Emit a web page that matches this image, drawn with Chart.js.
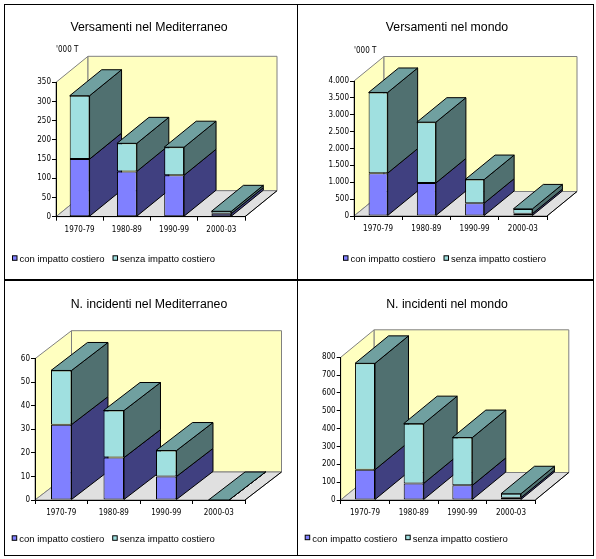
<!DOCTYPE html>
<html>
<head>
<meta charset="utf-8">
<script src="https://cdn.jsdelivr.net/npm/chart.js@4.4.1/dist/chart.umd.min.js"></script>
<style>
  html, body { margin: 0; padding: 0; background: #fff; }
  #wrap { position: relative; width: 596px; height: 559px; background: #fff; overflow: hidden; }
  #wrap canvas { position: absolute; }
  .line { position: absolute; background: #000; }
</style>
</head>
<body>
<div id="wrap">
  <canvas id="c1" width="298" height="280" style="left:0;top:0"></canvas>
  <canvas id="c2" width="298" height="280" style="left:298px;top:0"></canvas>
  <canvas id="c3" width="298" height="279" style="left:0;top:280px"></canvas>
  <canvas id="c4" width="298" height="279" style="left:298px;top:280px"></canvas>
  <div style="position:absolute;left:4px;top:4px;width:588px;height:550px;border:1px solid #000"></div>
  <div class="line" style="left:297px;top:4px;width:1px;height:551px"></div>
  <div class="line" style="left:4px;top:279px;width:589px;height:2px"></div>
</div>
<script>
// data
var categories = ['1970-79', '1980-89', '1990-99', '2000-03'];
var seriesNames = ['con impatto costiero', 'senza impatto costiero'];

var medTonsCon = [150, 118, 108, 8];
var medTonsSenza = [165, 73, 73, 6];
var medTonsTicks = [0, 50, 100, 150, 200, 250, 300, 350];

var worldTonsCon = [1270, 980, 380, 70];
var worldTonsSenza = [2390, 1800, 700, 140];
var worldTonsTicks = [0, 500, 1000, 1500, 2000, 2500, 3000, 3500, 4000];

var medIncCon = [32, 18, 10, 0];
var medIncSenza = [23, 20, 11, 0];
var medIncTicks = [0, 10, 20, 30, 40, 50, 60];

var worldIncCon = [170, 93, 82, 13];
var worldIncSenza = [596, 335, 268, 22];
var worldIncTicks = [0, 100, 200, 300, 400, 500, 600, 700, 800];

var FRONT = ['#8080FF', '#A0E0E0'];
var SIDE = ['#404080', '#507070'];
var TOP = '#70A0A0';
var WALL = '#FFFFC0';
var FLOOR = '#E0E0E0';
var NARROW = '"Liberation Sans Narrow", "Arial Narrow", "DejaVu Sans Condensed", sans-serif';
var SANS = '"Liberation Sans", Arial, sans-serif';

function poly(ctx, pts, fill, stroke) {
	ctx.beginPath();
	ctx.moveTo(pts[0][0], pts[0][1]);
	for (var i = 1; i < pts.length; i++) {
		ctx.lineTo(pts[i][0], pts[i][1]);
	}
	ctx.closePath();
	if (fill) {
		ctx.fillStyle = fill;
		ctx.fill();
	}
	if (stroke) {
		ctx.strokeStyle = stroke;
		ctx.lineWidth = 1;
		ctx.stroke();
	}
}

function fmtIt(v) {
	return String(v).replace(/\B(?=(\d{3})+(?!\d))/g, '.');
}

// walls, floor, bar sides and tops, plus the Excel-like texts
var excel3d = {
	id: 'excel3d',
	beforeDraw: function (chart, args, o) {
		var ctx = chart.ctx, a = chart.chartArea, dx = o.dx, dy = o.dy;
		ctx.save();
		poly(ctx, [[a.left, a.bottom], [a.left, a.top], [a.left + dx, a.top + dy], [a.left + dx, a.bottom + dy]], WALL, '#808080');
		poly(ctx, [[a.left + dx, a.top + dy], [a.right + dx, a.top + dy], [a.right + dx, a.bottom + dy], [a.left + dx, a.bottom + dy]], WALL, '#808080');
		poly(ctx, [[a.left, a.bottom], [a.right, a.bottom], [a.right + dx, a.bottom + dy], [a.left + dx, a.bottom + dy]], FLOOR, '#808080');
		ctx.beginPath();
		ctx.moveTo(a.right, a.bottom);
		ctx.lineTo(a.right + dx, a.bottom + dy);
		ctx.strokeStyle = '#000';
		ctx.stroke();
		ctx.restore();
	},
	beforeDatasetsDraw: function (chart, args, o) {
		var ctx = chart.ctx, dx = o.dx, dy = o.dy;
		var metas = chart.getSortedVisibleDatasetMetas();
		ctx.save();
		for (var i = 0; i < chart.data.labels.length; i++) {
			var topBar = null;
			metas.forEach(function (meta, k) {
				var p = meta.data[i].getProps(['x', 'y', 'base', 'width'], true);
				var l = p.x - p.width / 2, r = p.x + p.width / 2;
				var t = Math.min(p.y, p.base), b = Math.max(p.y, p.base);
				poly(ctx, [[r, t], [r + dx, t + dy], [r + dx, b + dy], [r, b]], SIDE[k], '#000');
				if (!topBar || t <= topBar.t) {
					topBar = {l: l, r: r, t: t};
				}
			});
			if (topBar) {
				poly(ctx, [[topBar.l, topBar.t], [topBar.r, topBar.t], [topBar.r + dx, topBar.t + dy], [topBar.l + dx, topBar.t + dy]], TOP, '#000');
			}
		}
		ctx.restore();
	},
	afterDraw: function (chart, args, o) {
		var ctx = chart.ctx;
		ctx.save();
		ctx.fillStyle = '#000';
		ctx.textBaseline = 'alphabetic';
		ctx.font = '12.3px ' + SANS;
		ctx.textAlign = 'center';
		ctx.fillText(o.title, chart.width / 2, o.titleY);
		if (o.unit) {
			ctx.font = '8px ' + NARROW;
			ctx.textAlign = 'left';
			ctx.fillText(o.unit, chart.chartArea.left, o.unitY);
		}
		ctx.font = '9.5px ' + SANS;
		ctx.textAlign = 'left';
		var x = o.legendX;
		chart.data.datasets.forEach(function (ds, k) {
			ctx.fillStyle = FRONT[k];
			ctx.fillRect(x + 0.5, o.legendY - 6.5, 4.5, 4.5);
			ctx.strokeStyle = '#000';
			ctx.lineWidth = 1;
			ctx.strokeRect(x + 0.5, o.legendY - 6.5, 4.5, 4.5);
			ctx.fillStyle = '#000';
			ctx.fillText(ds.label, x + 7.5, o.legendY);
			x += 7.5 + ctx.measureText(ds.label).width + 8;
		});
		ctx.restore();
	}
};

var panels = [
	{id: 'c1', title: 'Versamenti nel Mediterraneo', unit: "'000 T", con: medTonsCon, senza: medTonsSenza, ticks: medTonsTicks,
		L: 56, R: 245, T: 82.3, B: 216.7, dx: 32, dy: -26, barPct: 0.42, titleY: 30.7, unitY: 52.3, legendX: 12, legendY: 262.3},
	{id: 'c2', title: 'Versamenti nel mondo', unit: "'000 T", con: worldTonsCon, senza: worldTonsSenza, ticks: worldTonsTicks,
		L: 56, R: 249, T: 81, B: 216, dx: 30, dy: -24.5, barPct: 0.395, titleY: 30.7, unitY: 52.7, legendX: 45, legendY: 262.3},
	{id: 'c3', title: 'N. incidenti nel Mediterraneo', unit: '', con: medIncCon, senza: medIncSenza, ticks: medIncTicks,
		L: 35, R: 245, T: 78.7, B: 220, dx: 36.5, dy: -28, barPct: 0.39, titleY: 28.3, unitY: 0, legendX: 11.7, legendY: 262.3},
	{id: 'c4', title: 'N. incidenti nel mondo', unit: '', con: worldIncCon, senza: worldIncSenza, ticks: worldIncTicks,
		L: 42.7, R: 237.3, T: 77.3, B: 220, dx: 33.5, dy: -27.5, barPct: 0.41, titleY: 27.7, unitY: 0, legendX: 6.7, legendY: 261.7}
];

var X_HEIGHT = 20;

panels.forEach(function (p) {
	var canvas = document.getElementById(p.id);
	var tickFont = {family: NARROW, size: 8};
	var ticks = p.ticks;
	new Chart(canvas, {
		type: 'bar',
		data: {
			labels: categories,
			datasets: [p.con, p.senza].map(function (values, k) {
				return {
					label: seriesNames[k],
					data: values,
					backgroundColor: FRONT[k],
					borderColor: '#000',
					borderWidth: 1,
					borderSkipped: false,
					barPercentage: p.barPct,
					categoryPercentage: 1
				};
			})
		},
		options: {
			responsive: false,
			animation: false,
			events: [],
			layout: {
				autoPadding: false,
				padding: {left: 0, top: p.T, right: canvas.width - p.R, bottom: canvas.height - p.B - X_HEIGHT}
			},
			plugins: {
				legend: {display: false},
				title: {display: false},
				tooltip: {enabled: false},
				excel3d: {dx: p.dx, dy: p.dy, title: p.title, unit: p.unit, titleY: p.titleY, unitY: p.unitY, legendX: p.legendX, legendY: p.legendY}
			},
			scales: {
				x: {
					stacked: true,
					offset: true,
					grid: {display: true, offset: true, drawOnChartArea: false, drawTicks: true, tickLength: 4, color: '#000'},
					border: {display: true, color: '#000', width: 1},
					ticks: {font: tickFont, color: '#000', padding: 4, maxRotation: 0, autoSkip: false},
					afterFit: function (s) { s.height = X_HEIGHT; }
				},
				y: {
					stacked: true,
					min: ticks[0],
					max: ticks[ticks.length - 1],
					grid: {drawOnChartArea: false, drawTicks: true, tickLength: 4, color: '#000'},
					border: {display: true, color: '#000', width: 1},
					ticks: {font: tickFont, color: '#000', padding: 1, callback: function (v) { return fmtIt(v); }},
					afterBuildTicks: function (s) {
						s.ticks = ticks.map(function (v) { return {value: v}; });
					},
					afterFit: function (s) { s.width = p.L; }
				}
			}
		},
		plugins: [excel3d]
	});
});
</script>
</body>
</html>
